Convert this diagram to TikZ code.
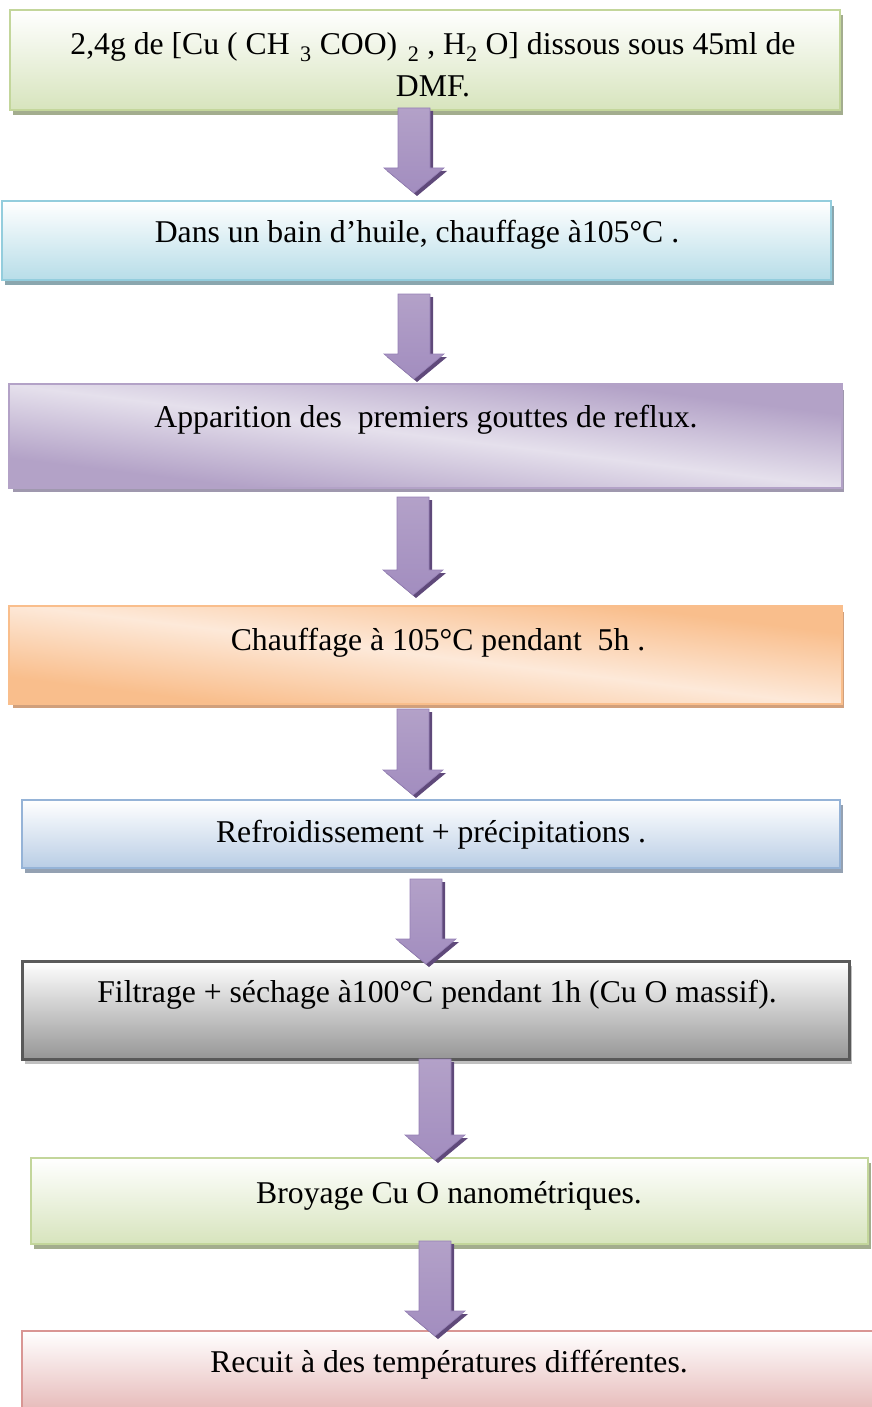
\documentclass[tikz,border=0pt]{standalone}
\usepackage{fontspec}
\setmainfont{Liberation Serif}
\usepackage{tikz}
\usetikzlibrary{calc, shadows}
\definecolor{vertbord}{HTML}{C3D69B}
\definecolor{vertfond}{HTML}{D7E4BD}
\definecolor{vertombre}{HTML}{A3AD8E}
\definecolor{bleubord}{HTML}{93CDDD}
\definecolor{bleufond}{HTML}{B7DDE8}
\definecolor{bleuombre}{HTML}{8AA6AE}
\definecolor{violfonce}{HTML}{B3A2C7}
\definecolor{violclair}{HTML}{E5E0EC}
\definecolor{violombre}{HTML}{9F98AE}
\definecolor{orfonce}{HTML}{F9BE8C}
\definecolor{orclair}{HTML}{FDE9D9}
\definecolor{orombre}{HTML}{D1A07C}
\definecolor{cielbord}{HTML}{95B3D7}
\definecolor{cielfond}{HTML}{B9CDE5}
\definecolor{cielombre}{HTML}{94A1B2}
\definecolor{grisbord}{HTML}{595959}
\definecolor{grisfond}{HTML}{969696}
\definecolor{grisombre}{HTML}{C0C0C0}
\definecolor{rougebord}{HTML}{D99694}
\definecolor{rougefond}{HTML}{E6B9B8}
\definecolor{flhaut}{HTML}{B3A1C8}
\definecolor{flmil}{HTML}{7A5C9E}
\definecolor{flbas}{HTML}{A28DBF}
\definecolor{flbord}{HTML}{9580B5}
\definecolor{flombre}{HTML}{5F497A}
\newcommand{\taille}{\fontsize{31.7}{42}\selectfont}
\tikzset{
  etape/.style={rectangle, inner sep=0pt, line width=2.2pt},
  ombre/.style={drop shadow={shadow xshift=3pt, shadow yshift=-5pt, fill=#1, opacity=1}},
  etiq/.style={font=\taille, anchor=base, inner sep=0pt, align=center}}
\newcommand{\fleche}[2]{%
  \fill[flombre] let \p1=(#1), \p2=(#2) in
    (\x1-13pt,\y1-3pt) -- (\x1+19pt,\y1-3pt) -- (\x1+19pt,\y2+22pt) -- (\x1+33pt,\y2+22pt)
    -- (\x2+3pt,\y2-3pt) -- (\x1-27pt,\y2+22pt) -- (\x1-13pt,\y2+22pt) -- cycle;
  \shadedraw[top color=flhaut, middle color=flmil, bottom color=flbas, draw=flbord, line width=0.6pt]
    let \p1=(#1), \p2=(#2) in
    (\x1-16pt,\y1) -- (\x1+16pt,\y1) -- (\x1+16pt,\y2+25pt) -- (\x1+30pt,\y2+25pt)
    -- (\x2,\y2) -- (\x1-30pt,\y2+25pt) -- (\x1-16pt,\y2+25pt) -- cycle;}

\begin{document}
\begin{tikzpicture}[x=1pt,y=-1pt]
  \useasboundingbox (0,0) rectangle (872,1407);
  \node[etape, ombre=vertombre, draw=vertbord, top color=white, bottom color=vertfond,
    minimum width=830pt, minimum height=100pt] (b1) at (425,60) {};
  \node[etape, ombre=bleuombre, draw=bleubord, top color=white, bottom color=bleufond,
    minimum width=829pt, minimum height=79pt] (b2) at (416.5,240.5) {};
  \node[etape, ombre=violombre, fill=violfonce,
    minimum width=831pt, minimum height=102pt] (b3) at (425.5,436) {};
  \node[etape, ombre=orombre, fill=orfonce,
    minimum width=831pt, minimum height=96pt] (b4) at (425.5,655) {};
  \node[etape, ombre=cielombre, draw=cielbord, top color=white, bottom color=cielfond,
    minimum width=818pt, minimum height=68pt] (b5) at (431,834) {};
  \node[etape, ombre=grisombre, draw=grisbord, line width=3pt, top color=white, bottom color=grisfond,
    minimum width=827pt, minimum height=98pt] (b6) at (435.5,1010) {};
  \node[etape, ombre=vertombre, draw=vertbord, top color=white, bottom color=vertfond,
    minimum width=837pt, minimum height=86pt] (b7) at (449.5,1201) {};
  \node[etape, draw=rougebord, top color=white, bottom color=rougefond,
    minimum width=863pt, minimum height=81pt] (b8) at (453.5,1371.5) {};

  \foreach \b/\fonce/\clair in {b3/violfonce/violclair, b4/orfonce/orclair}
    {\begin{scope}
       \clip (\b.south west) rectangle (\b.north east);
       \shade[top color=\fonce, bottom color=\fonce, middle color=\clair, shading angle=-45,
         transform canvas={shift={(\b.center)}, xscale=8.1}] (-52,-52) rectangle (52,52);
     \end{scope}
     \draw[\fonce, line width=2.2pt] (\b.south west) rectangle (\b.north east);}

  \foreach \k/\x/\ya/\yb in {1/414/108/193, 2/414/294/379, 3/413/497/595, 4/413/709/795,
      5/426/879/964, 6/435/1059/1160, 7/435/1241/1336}
    {\coordinate (d\k) at (\x,\ya);
     \coordinate (f\k) at (\x,\yb);}
  \foreach \k in {1,...,7}
    {\fleche{d\k}{f\k}}

  \node[etiq] (t1) at (433,97) {2,4g de [Cu ( CH\,\,\textsubscript{3} COO)\,\,\textsubscript{2} , H\textsubscript{2} O] dissous sous 45ml de\\DMF.};
  \node[etiq] (t2) at (417,242) {Dans un bain d’huile, chauffage à105°C .};
  \node[etiq] (t3) at (426,427) {Apparition des\ \ premiers gouttes de reflux.};
  \node[etiq] (t4) at (438,650) {Chauffage à 105°C pendant\ \ 5h .};
  \node[etiq] (t5) at (431,842) {Refroidissement + précipitations .};
  \node[etiq] (t6) at (437,1002) {Filtrage + séchage à100°C pendant 1h (Cu O massif).};
  \node[etiq] (t7) at (449,1203) {Broyage Cu O nanométriques.};
  \node[etiq] (t8) at (449,1372) {Recuit à des températures différentes.};
\end{tikzpicture}
\end{document}
